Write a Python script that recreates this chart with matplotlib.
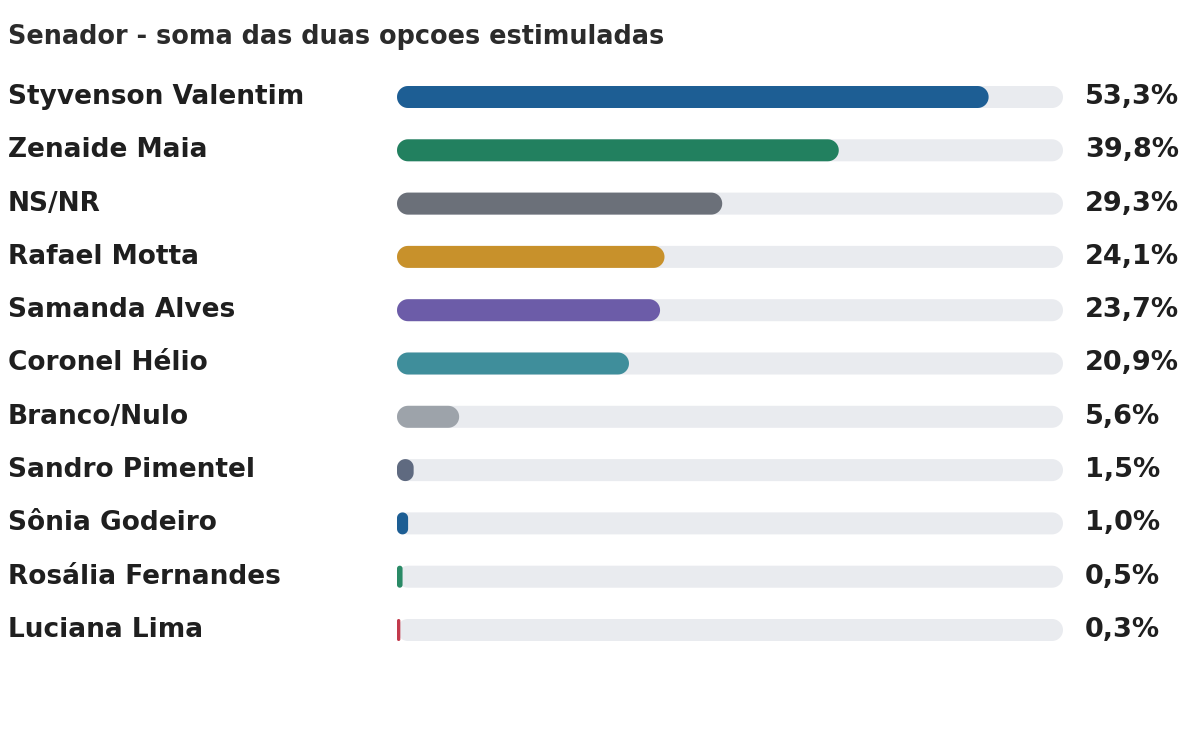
import numpy as np
import matplotlib.pyplot as plt
from matplotlib.patches import Polygon
from matplotlib.transforms import blended_transform_factory

# data
names = ["Styvenson Valentim", "Zenaide Maia", "NS/NR", "Rafael Motta", "Samanda Alves",
         "Coronel Hélio", "Branco/Nulo", "Sandro Pimentel", "Sônia Godeiro",
         "Rosália Fernandes", "Luciana Lima"]
values = [53.3, 39.8, 29.3, 24.1, 23.7, 20.9, 5.6, 1.5, 1.0, 0.5, 0.3]
labels = ["53,3%", "39,8%", "29,3%", "24,1%", "23,7%", "20,9%", "5,6%", "1,5%", "1,0%", "0,5%", "0,3%"]
colors = ["#1d5e94", "#22805f", "#6b7079", "#c8912b", "#6c5ca8", "#3f8e9b",
          "#9da3aa", "#5f6a80", "#1d5e94", "#2a8a66", "#c23a4c"]
title = "Senador - soma das duas opcoes estimuladas"
xmax = 60

W, H = 1200, 750
fig = plt.figure(figsize=(12, 7.5), dpi=100)
fig.patch.set_facecolor("white")

# axes placed so the track runs from x=397px to x=1063px
left_px, right_px = 397, 1063
row0, step = 97, 53.3
n = len(names)
top_px = row0 - step / 2
bot_px = row0 + step * (n - 1) + step / 2
ax = fig.add_axes([left_px / W, 1 - bot_px / H, (right_px - left_px) / W, (bot_px - top_px) / H])
ax.set_xlim(0, xmax)
ax.set_ylim(n - 0.5, -0.5)
ax.axis("off")

xpp = xmax / (right_px - left_px)   # x units per pixel
ypp = 1 / step                      # y units per pixel
bar_h = 22 * ypp

def pill(x0, y0, w, h, color):
    # rounded rectangle, corner radius (in pixels) limited by the bar width
    r = min(h / 2 / ypp, w / 2 / xpp)
    rx, ry = r * xpp, r * ypp
    x1, y1 = x0 + w, y0 + h
    t = np.linspace(0, np.pi / 2, 12)
    c, s = np.cos(t), np.sin(t)
    pts = np.vstack([
        np.column_stack([x1 - rx + rx * c, y1 - ry + ry * s]),
        np.column_stack([x0 + rx - rx * s, y1 - ry + ry * c]),
        np.column_stack([x0 + rx - rx * c, y0 + ry - ry * s]),
        np.column_stack([x1 - rx + rx * s, y0 + ry - ry * c]),
    ])
    ax.add_patch(Polygon(pts, closed=True, facecolor=color, edgecolor="none"))

tracks = ax.barh(range(n), [xmax] * n, height=bar_h, color="none")
bars = ax.barh(range(n), values, height=bar_h, color="none")
for t in tracks:
    pill(t.get_x(), t.get_y(), t.get_width(), t.get_height(), "#e9ebef")
for b, c in zip(bars, colors):
    pill(b.get_x(), b.get_y(), b.get_width(), b.get_height(), c)

tr = blended_transform_factory(fig.transFigure, ax.transData)
for i, (nm, lb) in enumerate(zip(names, labels)):
    ax.text(8 / W, i, nm, transform=tr, ha="left", va="center", fontsize=19,
            fontweight="bold", color="#1f1f1f")
    ax.text(1085 / W, i, lb, transform=tr, ha="left", va="center", fontsize=19.5,
            fontweight="bold", color="#1f1f1f")

fig.text(8 / W, 1 - 37 / H, title, ha="left", va="center", fontsize=18.4,
         fontweight="bold", color="#2b2b2b")

fig.savefig("out.png", dpi=100)
